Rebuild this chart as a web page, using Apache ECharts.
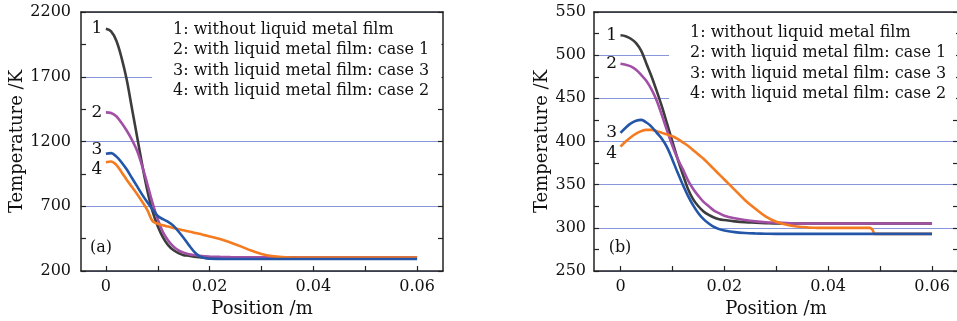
<!DOCTYPE html>
<html>
<head>
<meta charset="utf-8">
<script src="https://cdn.jsdelivr.net/npm/echarts@6/dist/echarts.min.js"></script>
<style>
html,body{margin:0;padding:0;background:#fff;}
#c{width:957px;height:321px;}
</style>
</head>
<body>
<div id="c"></div>
<script>
// ---------- data: panel (a) ----------
var posA = [0,0.001,0.002,0.003,0.004,0.005,0.006,0.007,0.008,0.009,0.010,0.011,0.012,0.013,0.014,0.015,0.016,0.017,0.018,0.019,0.020,
            0.022,0.024,0.026,0.028,0.030,0.032,0.034,0.036,0.038,0.040,0.045,0.050,0.055,0.060];
var tempA1 = [2070,2050,1980,1850,1680,1460,1240,1020,820,660,545,460,400,362,338,322,318,311,306,303,301,
              300,300,300,300,300,300,300,300,300,300,300,300,300,300];
var tempA2 = [1425,1420,1395,1345,1285,1215,1130,1010,870,725,600,500,435,390,360,342,330,323,318,314,312,
              309,307,306,305,305,305,305,305,305,305,305,305,305,305];
var tempA3 = [1105,1110,1085,1040,985,920,855,790,730,675,625,600,580,550,505,455,400,350,315,300,295,
              293.5,293,293,293,293,293,293,293,293,293,293,293,293,293];
var tempA4 = [1040,1045,1020,965,905,850,795,735,670,585,565,553,543,533,523,514,505,496,487,477,467,
              447,420,390,358,332,315,307,304,303,303,303,303,303,303];

// ---------- data: panel (b) ----------
var posB = [0,0.001,0.002,0.003,0.004,0.005,0.006,0.007,0.008,0.009,0.010,0.011,0.012,0.013,0.014,0.015,0.016,0.017,0.018,0.019,0.020,
            0.022,0.024,0.026,0.028,0.030,0.032,0.034,0.036,0.038,0.040,0.045,0.048,0.0485,0.049,0.050,0.055,0.060];
var tempB1 = [523,522,519,514,505,490,475,458,440,420,400,380,362,345,333,325,319,315,312,310,309,
              307.5,306.5,306,305.5,305,305,305,305,305,305,305,305,305,305,305,305,305];
var tempB2 = [490,489,487,483,477,470,460,447,430,412,395,380,368,355,345,337,330,325,320,317,314,
              311,309,307.5,306.5,306,305.5,305,305,305,305,305,305,305,305,305,305,305];
var tempB3 = [410,416,421,424,425,422,417,410,403,393,379,364,350,337,326,317,310,305,301,298.5,297,
              295,294,293.5,293.2,293,293,293,293,293,293,293,293,293,293,293,293,293];
var tempB4 = [394,400,405,409,412,413.5,413.5,412,410,408,406,403,399,395,390,385,380,374,368,362,356,
              344,332,322,313,307,303.5,301.5,300.5,300,300,300,300,298,293,293,293,293];

// ---------- labels / ticks ----------
var legendTexts = ['1: without liquid metal film','2: with liquid metal film: case 1','3: with liquid metal film: case 3','4: with liquid metal film: case 2'];
var curveLabels = ['1','2','3','4'];
var xTickValues = [0,0.01,0.02,0.03,0.04,0.05,0.06];
var xLabelValues = [0,0.02,0.04,0.06];
var xLabelTexts = ['0','0.02','0.04','0.06'];
var panelTags = ['(a)','(b)'];
var xTitle = 'Position /m';
var yTitle = 'Temperature /K';

var FONT = 'DejaVu Serif';
var FS = 16;
var FT = 18;
var colors = ['#3c3c3c','#a24fa6','#2356a8','#f47b20'];
var gridColor = '#8796d8';

function zip(xs, ys){ return xs.map(function(x,i){ return [x, ys[i]]; }); }

function xAxes(gi, min, max){
  return [{
    type:'value', gridIndex:gi, position:'bottom', min:min, max:max,
    axisLine:{show:true, onZero:false, lineStyle:{color:'#222', width:1.5}},
    axisTick:{show:true, inside:true, length:5, customValues:xTickValues, lineStyle:{color:'#222', width:1.2}},
    axisLabel:{show:true, customValues:xLabelValues, margin:8, color:'#111', fontFamily:FONT, fontSize:FS,
      formatter:function(v){ var i = xLabelValues.findIndex(function(t){return Math.abs(t-v)<1e-9;}); return i>=0? xLabelTexts[i] : ''; }},
    splitLine:{show:false},
    name:xTitle, nameLocation:'middle', nameGap:26,
    nameTextStyle:{color:'#111', fontFamily:FONT, fontSize:FT}
  },{
    type:'value', gridIndex:gi, position:'top', min:min, max:max,
    axisLine:{show:true, onZero:false, lineStyle:{color:'#222', width:1.5}},
    axisTick:{show:false}, axisLabel:{show:false}, splitLine:{show:false}
  }];
}
function yAxes(gi, min, max, interval, nameGap, labelMargin){
  return [{
    type:'value', gridIndex:gi, position:'left', min:min, max:max, interval:interval,
    axisLine:{show:true, onZero:false, lineStyle:{color:'#222', width:1.5}},
    axisTick:{show:true, inside:true, length:5, lineStyle:{color:'#222', width:1.2}},
    minorTick:{show:true, splitNumber:2, length:5, lineStyle:{color:'#222', width:1.2}},
    axisLabel:{show:true, margin:labelMargin, color:'#111', fontFamily:FONT, fontSize:FS,
      formatter:function(v){ return String(v); }},
    splitLine:{show:true, lineStyle:{color:gridColor, width:1}},
    name:yTitle, nameLocation:'middle', nameRotate:90, nameGap:nameGap,
    nameTextStyle:{color:'#111', fontFamily:FONT, fontSize:FT}
  },{
    type:'value', gridIndex:gi, position:'right', min:min, max:max, interval:interval,
    axisLine:{show:true, onZero:false, lineStyle:{color:'#222', width:1.5}},
    axisTick:{show:true, inside:true, length:5, lineStyle:{color:'#222', width:1.2}},
    minorTick:{show:true, splitNumber:2, length:5, lineStyle:{color:'#222', width:1.2}},
    axisLabel:{show:false}, splitLine:{show:false}
  }];
}

function lineSeries(xi, yi, xs, ys, idx, labelOffset){
  return {
    type:'line', xAxisIndex:xi, yAxisIndex:yi, data:zip(xs, ys),
    showSymbol:false, symbol:'none', smooth:0.35,
    lineStyle:{color:colors[idx], width:2.6}, itemStyle:{color:colors[idx]},
    z: idx===2 ? 5 : (idx===3 ? 4 : 3),
    markPoint:{
      symbol:'circle', symbolSize:1, itemStyle:{color:'rgba(0,0,0,0)'}, silent:true, animation:false,
      label:{show:true, position:'left', distance:3, offset:labelOffset, color:'#111', fontFamily:FONT, fontSize:17,
        formatter:curveLabels[idx]},
      data:[{coord:[xs[0], ys[0]]}]
    }
  };
}

function legendGroup(x0, y0, rectLeft, rectRight, rectBottom){
  var els = [{
    type:'rect', z:1, shape:{x:rectLeft, y:13.5, width:rectRight-rectLeft, height:rectBottom-13.5},
    style:{fill:'#fff'}
  }];
  legendTexts.forEach(function(t,i){
    els.push({type:'text', z:2, x:x0, y:y0 + i*20.3,
      style:{text:t, font:FS+'px "'+FONT+'"', fill:'#111', verticalAlign:'middle', align:'left'}});
  });
  return els;
}

var chart = echarts.init(document.getElementById('c'), null, {renderer:'canvas'});
var xa = xAxes(0, -0.0048, 0.065).concat(xAxes(1, -0.0051, 0.065));
var ya = yAxes(0, 200, 2200, 500, 55, 10).concat(yAxes(1, 250, 550, 50, 43, 8));

var graphics = []
  .concat(legendGroup(173, 30, 152, 441.5, 104))
  .concat(legendGroup(690, 33, 669, 956, 108))
  .concat([
    {type:'text', z:2, x:101, y:248, style:{text:panelTags[0], font:FS+'px "'+FONT+'"', fill:'#111', align:'center', verticalAlign:'middle'}},
    {type:'text', z:2, x:620, y:248, style:{text:panelTags[1], font:FS+'px "'+FONT+'"', fill:'#111', align:'center', verticalAlign:'middle'}}
  ]);

chart.setOption({
  animation:false,
  backgroundColor:'#fff',
  grid:[
    {left:81, top:12, width:362, height:259, containLabel:false, outerBoundsMode:'none'},
    {left:594, top:12, width:364, height:259, containLabel:false, outerBoundsMode:'none'}
  ],
  xAxis:xa,
  yAxis:ya,
  graphic:{elements:graphics},
  series:[
    lineSeries(0,0,posA,tempA1,0,[0,0]),
    lineSeries(0,0,posA,tempA2,1,[0,0]),
    lineSeries(0,0,posA,tempA4,3,[0,7]),
    lineSeries(0,0,posA,tempA3,2,[0,-4]),
    lineSeries(2,2,posB,tempB1,0,[0,0]),
    lineSeries(2,2,posB,tempB2,1,[0,0]),
    lineSeries(2,2,posB,tempB4,3,[0,7]),
    lineSeries(2,2,posB,tempB3,2,[0,0])
  ]
});
</script>
</body>
</html>
